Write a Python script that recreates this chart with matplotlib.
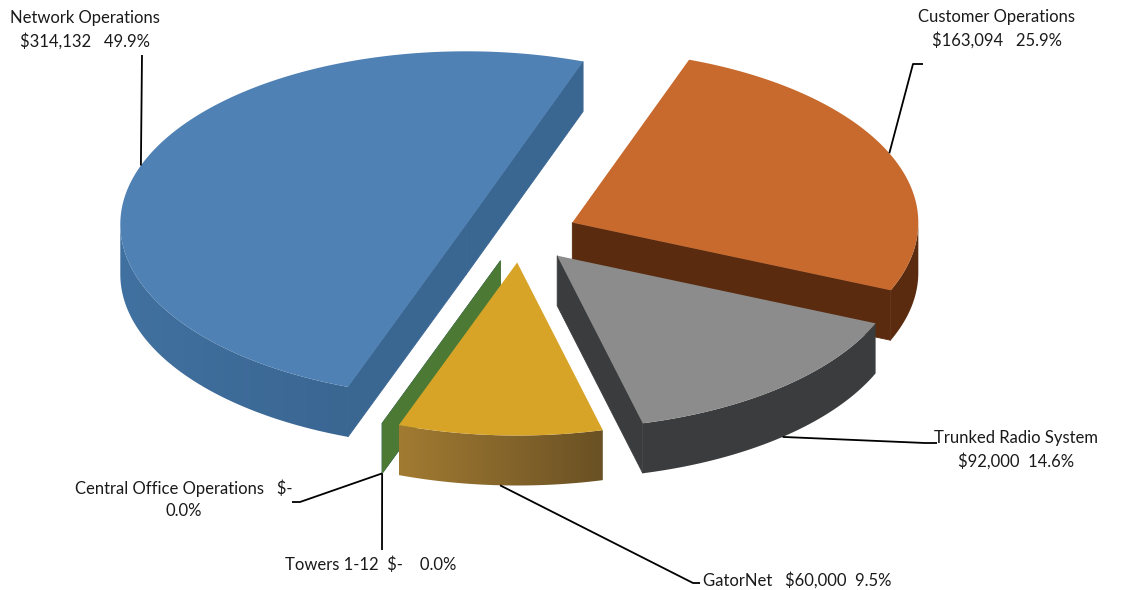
import numpy as np
import matplotlib.pyplot as plt
from matplotlib.patches import Polygon
from matplotlib.colors import to_rgb

names = ['Network Operations', 'Customer Operations', 'Trunked Radio System',
         'GatorNet', 'Central Office Operations', 'Towers 1-12']
costs = [314132, 163094, 92000, 60000, 0, 0]

top_colors = ['#4F81B5', '#C8692D', '#8C8C8C', '#D8A427', '#4472C4', '#70AD47']
# side shading, left end -> right end
side_colors = [('#4171A0', '#3A6692'), ('#5A2B0E', '#5A2B0E'), ('#3B3C3D', '#3B3C3D'),
               ('#A27B32', '#6A5124'), ('#2F528F', '#2F528F'), ('#4C7A35', '#4C7A35')]

# label text: (x, y, ha), leader bend points from slice to text
label_pos = [(85, 30, 'center'), (997, 29, 'center'), (1016, 450, 'center'),
             (703, 580, 'left'), (184, 499, 'center'), (285, 565, 'left')]
leader_pts = [[(142, 55)], [(913, 64), (923, 64)], [(925, 443), (937, 443)],
              [(693, 583), (700, 583)], [(300, 502), (292, 502)], [(382, 550)]]
label_fmt = ['{n}\n{v}   {p}', '{n}\n{v}   {p}', '{n}\n{v}  {p}',
             '{n}   {v}  {p}', '{n}   {v}\n{p}', '{n}  {v}    {p}']

# pie geometry (pixels)
cx, cy = 520, 234
rx, ry = 346, 173
depth = 50
explode = 0.165
first_angle = 200   # degrees clockwise from 12 o'clock

total = sum(costs)


def pt(theta, ox, oy, r=1.0, z=0.0):
    t = np.radians(theta)
    return ox + rx * r * np.sin(t), oy - ry * r * np.cos(t) + z


def front_range(t1, t2):
    # part of the rim between t1 and t2 that faces the viewer (90..270 deg)
    for k in range(-1, 3):
        lo, hi = max(t1, 360 * k + 90), min(t2, 360 * k + 270)
        if hi > lo:
            return lo, hi
    return None


fig = plt.figure(figsize=(11.33, 5.90), dpi=100)
ax = fig.add_axes([0, 0, 1, 1])

slices = []
start = first_angle
for i, v in enumerate(costs):
    span = 360.0 * v / total
    t1, t2 = start, start + span
    mid = (t1 + t2) / 2
    ox = cx + explode * rx * np.sin(np.radians(mid))
    oy = cy - explode * ry * np.cos(np.radians(mid))
    slices.append((i, t1, t2, mid, ox, oy))
    start = t2

z = 1
# back slices first
for i, t1, t2, mid, ox, oy in sorted(slices, key=lambda s: s[5]):
    cl, cr = side_colors[i]

    # cut faces
    for th, sgn in ((t1, -1), (t2, 1)):
        if sgn * np.sin(np.radians(th)) > 0:
            p = pt(th, ox, oy)
            face = [(ox, oy), p, (p[0], p[1] + depth), (ox, oy + depth)]
            ax.add_patch(Polygon(face, closed=True, fc=cr, ec=cr, lw=0.6, zorder=z))
            z += 1

    if t2 <= t1:
        continue

    # outer wall
    rng = front_range(t1, t2)
    if rng:
        ths = np.linspace(rng[0], rng[1], 120)
        upper = [pt(t, ox, oy) for t in ths]
        lower = [(x, y + depth) for x, y in upper[::-1]]
        wall = Polygon(upper + lower, closed=True, zorder=z)
        if cl == cr:
            wall.set_facecolor(cl)
            wall.set_edgecolor('none')
            ax.add_patch(wall)
        else:
            wall.set_facecolor('none')
            wall.set_edgecolor('none')
            ax.add_patch(wall)
            xs = [p[0] for p in upper]
            ys = [p[1] for p in upper + lower]
            grad = np.linspace(0, 1, 256)[:, None]
            rgb = (1 - grad) * np.array(to_rgb(cl)) + grad * np.array(to_rgb(cr))
            img = ax.imshow(rgb[None, :, :], extent=(min(xs), max(xs), max(ys), min(ys)),
                            aspect='auto', interpolation='bilinear', zorder=z)
            img.set_clip_path(wall)
        z += 1

    # top
    ths = np.linspace(t1, t2, max(int((t2 - t1) * 2), 2))
    top = [(ox, oy)] + [pt(t, ox, oy) for t in ths]
    ax.add_patch(Polygon(top, closed=True, fc=top_colors[i], ec='none', zorder=z))
    z += 1

# labels and leader lines
for i, t1, t2, mid, ox, oy in slices:
    v = costs[i]
    front = np.cos(np.radians(mid)) < 0
    anchor = pt(mid, ox, oy, z=depth if front else 0)
    path = [anchor] + leader_pts[i]
    ax.plot([p[0] for p in path], [p[1] for p in path], color='black', lw=1.3,
            solid_capstyle='butt', zorder=z)
    val = '${:,.0f}'.format(v) if v else '$-'
    txt = label_fmt[i].format(n=names[i], v=val, p='{:.1f}%'.format(100.0 * v / total))
    x, y, ha = label_pos[i]
    ax.text(x, y, txt, ha=ha, va='center', multialignment='center',
            fontsize=12, family='Lato', color='#1A1A1A', linespacing=1.45, zorder=z)

ax.set_xlim(0, 1133)
ax.set_ylim(590, 0)
ax.axis('off')

fig.savefig('out.png', dpi=100)
